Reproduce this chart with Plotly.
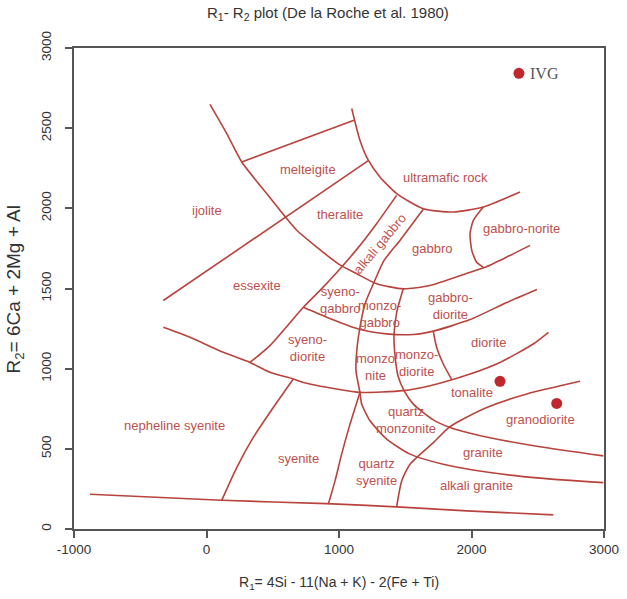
import plotly.graph_objects as go

# ---------------- boundary lines (R1, R2) ----------------
arcA_x = [26, 152, 266, 454, 605, 681, 832, 995, 1134, 1285, 1485, 1687, 1989, 2104, 2266, 2442]
arcA_y = [2648, 2467, 2289, 2092, 1936, 1863, 1758, 1654, 1592, 1529, 1498, 1519, 1602, 1633, 1696, 1769]

arcC_x = [1096, 1158, 1221, 1309, 1435, 1636, 1863, 2089, 2366]
arcC_y = [2623, 2425, 2300, 2196, 2092, 1998, 1977, 2008, 2102]

lineB_x = [266, 1113]
lineB_y = [2289, 2550]

lineD_x = [-326, 1221]
lineD_y = [1425, 2297]

lineE_x = [1435, 1285, 1134, 983, 857, 731, 479, 328]
lineE_y = [2081, 1906, 1744, 1600, 1488, 1383, 1144, 1039]

lineF_x = [1636, 1460, 1340, 1264, 1196, 1158, 1138, 1128, 1158, 1171, 1234, 1360, 1536, 1787, 2140, 2517, 2995]
lineF_y = [1994, 1800, 1675, 1538, 1404, 1258, 1144, 988, 852, 779, 675, 561, 467, 404, 352, 317, 289]

arc2_x = [731, 907, 1146, 1360, 1561, 1712, 1989, 2266, 2494]
arc2_y = [1383, 1321, 1248, 1217, 1213, 1234, 1306, 1413, 1494]

arc3_x = [-326, -125, 127, 328, 479, 655, 731, 983, 1158, 1485, 1687, 1989, 2215, 2466, 2581]
arc3_y = [1258, 1196, 1102, 1039, 977, 936, 914, 873, 852, 863, 894, 967, 1039, 1154, 1227]

lineI_x = [1485, 1435, 1415, 1423, 1445, 1491, 1561, 1712, 1838, 1989, 2140, 2517, 2995]
lineI_y = [1498, 1350, 1206, 1081, 956, 863, 779, 681, 633, 597, 569, 513, 456]

lineJ_x = [1712, 1737, 1787, 1851]
lineJ_y = [1231, 1133, 1029, 931]

lineG_x = [1158, 1083, 1020, 970, 919]
lineG_y = [852, 654, 467, 300, 154]

lineK_x = [655, 504, 353, 228, 115]
lineK_y = [936, 758, 571, 383, 179]

lineH_x = [1435, 1473, 1536, 1712, 1830, 1913, 2115, 2417, 2819]
lineH_y = [138, 300, 404, 539, 634, 675, 758, 842, 921]

norite_x = [2089, 2014, 1989, 2002, 2039, 2089]
norite_y = [2008, 1925, 1842, 1738, 1664, 1633]

base_x = [-879, 115, 907, 1435, 1964, 2617]
base_y = [217, 179, 158, 138, 113, 88]

boundaries = [
    (arcA_x, arcA_y), (arcC_x, arcC_y), (lineB_x, lineB_y), (lineD_x, lineD_y),
    (lineE_x, lineE_y), (lineF_x, lineF_y), (arc2_x, arc2_y), (arc3_x, arc3_y),
    (lineI_x, lineI_y), (lineJ_x, lineJ_y), (lineG_x, lineG_y), (lineK_x, lineK_y),
    (lineH_x, lineH_y), (norite_x, norite_y), (base_x, base_y),
]

# ---------------- field labels ----------------
field_names = ["melteigite", "ijolite", "theralite", "ultramafic rock", "gabbro-norite",
               "gabbro", "essexite", "syeno-<br>gabbro", "monzo-<br>gabbro", "gabbro-<br>diorite",
               "syeno-<br>diorite", "monzo<br>nite", "monzo-<br>diorite", "diorite", "tonalite",
               "granodiorite", "quartz<br>monzonite", "granite", "alkali granite",
               "quartz<br>syenite", "syenite", "nepheline syenite"]
field_x = [769, 2, 1008, 1800, 2379, 1700, 378, 1004, 1309, 1845, 762, 1272, 1586, 2127,
           2002, 2517, 1506, 2090, 2039, 1285, 693, -238]
field_y = [2242, 1988, 1961, 2192, 1873, 1748, 1519, 1431, 1344, 1388, 1128, 1008, 1034, 1164,
           852, 686, 681, 477, 269, 356, 442, 644]

rotated_name = "alkali gabbro"
rotated_x = 1310
rotated_y = 1779

# ---------------- samples ----------------
sample_x = [2358, 2215, 2643]
sample_y = [2842, 921, 783]
sample_label = "IVG"

x_ticks = [-1000, 0, 1000, 2000, 3000]
x_ticklabels = ["-1000", "0", "1000", "2000", "3000"]
y_ticks = [0, 500, 1000, 1500, 2000, 2500, 3000]

LINE = "#b8433d"
TEXT = "#c0504d"
FONT = "Liberation Sans, Arial"

fig = go.Figure()
for bx, by in boundaries:
    fig.add_trace(go.Scatter(x=bx, y=by, mode="lines",
                             line=dict(color=LINE, width=1.6, shape="spline", smoothing=0.6),
                             hoverinfo="skip", showlegend=False))

fig.add_trace(go.Scatter(x=sample_x, y=sample_y, mode="markers",
                         marker=dict(color="#c0282d", size=11), showlegend=False))

for name, x, y in zip(field_names, field_x, field_y):
    fig.add_annotation(x=x, y=y, text=name, showarrow=False,
                       font=dict(family=FONT, size=13, color=TEXT))
fig.add_annotation(x=rotated_x, y=rotated_y, text=rotated_name, showarrow=False, textangle=-50,
                   font=dict(family=FONT, size=13, color=TEXT))
fig.add_annotation(x=sample_x[0], y=sample_y[0], text=sample_label, showarrow=False,
                   xanchor="left", xshift=9,
                   font=dict(family="Liberation Serif, Times New Roman", size=16, color="#555555"))

# axis titles and title
fig.add_annotation(xref="paper", yref="paper", x=0.5, y=-0.112, yanchor="middle",
                   text="R<sub>1</sub>= 4Si - 11(Na + K) - 2(Fe + Ti)", showarrow=False,
                   font=dict(family=FONT, size=14, color="#333333"))
fig.add_annotation(xref="paper", yref="paper", x=-0.112, y=0.497, xanchor="center",
                   text="R<sub>2</sub>= 6Ca + 2Mg + Al", showarrow=False, textangle=-90,
                   font=dict(family=FONT, size=19, color="#333333"))
fig.add_annotation(xref="paper", yref="paper", x=0.479, y=1.0707, yanchor="middle",
                   text="R<sub>1</sub>- R<sub>2</sub> plot (De la Roche et al. 1980)",
                   showarrow=False, font=dict(family=FONT, size=15, color="#333333"))

axis_common = dict(showline=True, mirror=True, linecolor="#555555", linewidth=1.5,
                   ticks="outside", ticklen=7, tickwidth=1.5, tickcolor="#555555",
                   showgrid=False, zeroline=False, automargin=False,
                   ticklabeloverflow="allow",
                   tickfont=dict(family=FONT, size=13.5, color="#333333"))

fig.update_xaxes(range=[-1000, 3000], tickvals=x_ticks, ticktext=x_ticklabels, **axis_common)
fig.update_yaxes(range=[0, 3000], tickvals=y_ticks, tickangle=-90, ticklabelstandoff=9,
                 **axis_common)

fig.update_layout(
    width=627, height=599,
    margin=dict(l=74, r=23, t=48, b=70),
    paper_bgcolor="white", plot_bgcolor="white",
    showlegend=False,
)

# remove the default 8px page margin so the figure fills the window exactly
fig.write_html("out.html", post_script="document.body.style.margin='0';",
               config={"displayModeBar": False})
